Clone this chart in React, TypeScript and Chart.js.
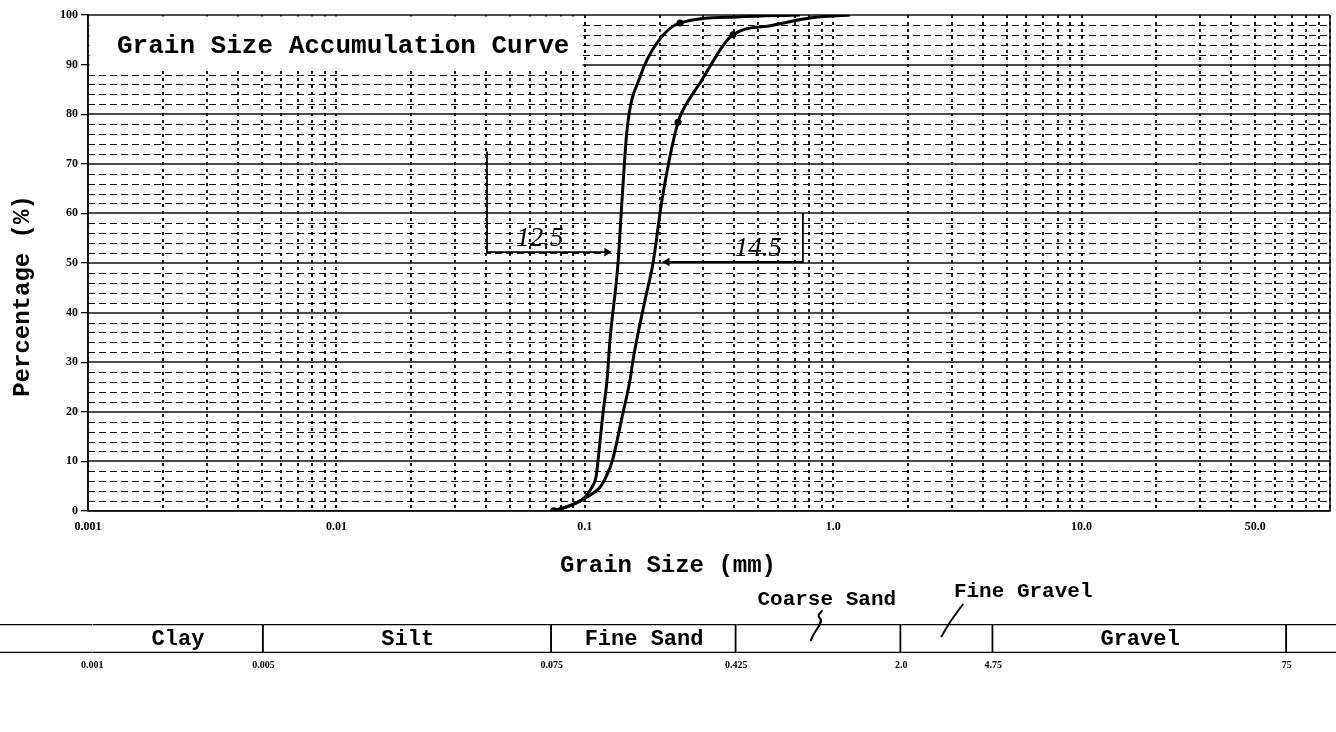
import React, { useEffect, useRef } from 'react';
import { Chart, registerables } from 'chart.js';

Chart.register(...registerables);

// ---------------- data ----------------
const xTickValues = [0.001, 0.01, 0.1, 1, 10, 50];
const xTickLabels = ['0.001', '0.01', '0.1', '1.0', '10.0', '50.0'];
const yTickValues = [0, 10, 20, 30, 40, 50, 60, 70, 80, 90, 100];

// grain size (mm) / percentage passing, left curve
const sizeA = [0.075, 0.0913, 0.1002, 0.1069, 0.111, 0.1129, 0.1184, 0.1229, 0.1263, 0.1361, 0.1412, 0.1479, 0.1668, 0.1953, 0.2417, 0.41, 0.735];
const passA = [0, 1.5, 2.8, 4.8, 6.9, 9.9, 19.8, 26.4, 34.5, 50, 62.7, 76.8, 87.5, 94.4, 98.4, 99.6, 100];
const dotsA = [0, 14];

// right curve
const sizeB = [0.075, 0.0913, 0.1021, 0.1151, 0.1217, 0.1287, 0.1425, 0.1521, 0.1563, 0.1747, 0.1882, 0.2045, 0.2372, 0.2484, 0.291, 0.395, 0.567, 0.8063, 1.168];
const passB = [0, 1.5, 2.8, 4.8, 6.9, 9.9, 19.8, 26.4, 30.4, 42.5, 50, 62.7, 78.4, 80.8, 86.3, 96, 97.9, 99.4, 100];
const dotsB = [0, 12, 15];

// handwritten notes
const note1Size = [0.0404, 0.0404, 0.1227];
const note1Pct = [72.5, 52.2, 52.2];
const note2Size = [0.755, 0.755, 0.2143];
const note2Pct = [60.1, 50.2, 50.2];
const noteTexts = ['12.5', '14.5'];
const noteTextSize = [0.066, 0.5];
const noteTextPct = [54.8, 52.8];

// classification band
const bandEdges = [0.001, 0.005, 0.075, 0.425, 2.0, 4.75, 75];
const bandEdgeLabels = ['0.001', '0.005', '0.075', '0.425', '2.0', '4.75', '75'];
const bandNames = ['Clay', 'Silt', 'Fine Sand', 'Coarse Sand', 'Fine Gravel', 'Gravel'];
const bandInside = [true, true, true, false, false, true];

const chartTitle = 'Grain Size Accumulation Curve';
const xTitle = 'Grain Size (mm)';
const yTitle = 'Percentage (%)';

// ---------------- layout ----------------
const W = 1336;
const H = 732;
const PLOT_LEFT = 88;
const PLOT_TOP = 15;
const PLOT_BOTTOM = 511;
const PLOT_RIGHT_PAD = 6;
const BAND_TOP = 624;
const BAND_BOTTOM = 653;
const BAND_MIN = 0.00042;
const BAND_MAX = 119;
const TITLE_BOX_MAX_SIZE = 0.098;
const TITLE_BOX_MIN_PCT = 89.5;

const FONT_MONO = '"Liberation Mono", "DejaVu Sans Mono", monospace';
const FONT_SERIF = '"Liberation Serif", "DejaVu Serif", serif';

const xGridLines: number[] = [];
[0.001, 0.01, 0.1, 1, 10].forEach((d) => {
  for (let m = 1; m <= 9; m++) xGridLines.push(+(m * d).toPrecision(6));
});
xGridLines.push(100);
const yMinorLines: number[] = [];
for (let v = 2; v < 100; v += 2) if (v % 10 !== 0) yMinorLines.push(v);

const paperGrid = {
  id: 'paperGrid',
  beforeDatasetsDraw(chart: any) {
    const { ctx, chartArea: a, scales } = chart;
    const x = scales.x;
    const y = scales.y;
    ctx.save();
    // minor horizontal rows (dashed)
    ctx.strokeStyle = '#111';
    ctx.lineWidth = 1.1;
    ctx.setLineDash([7, 4]);
    for (const v of yMinorLines) {
      const py = Math.round(y.getPixelForValue(v)) + 0.5;
      ctx.beginPath();
      ctx.moveTo(a.left, py);
      ctx.lineTo(a.right, py);
      ctx.stroke();
    }
    // vertical log lines (dotted)
    ctx.strokeStyle = '#000';
    ctx.lineWidth = 1.8;
    ctx.setLineDash([3, 4]);
    for (const v of xGridLines) {
      const px = Math.round(x.getPixelForValue(v));
      ctx.beginPath();
      ctx.moveTo(px, a.top);
      ctx.lineTo(px, a.bottom);
      ctx.stroke();
    }
    // major rows (solid)
    ctx.setLineDash([]);
    ctx.strokeStyle = '#111';
    ctx.lineWidth = 1.6;
    for (const v of yTickValues) {
      const py = Math.round(y.getPixelForValue(v));
      ctx.beginPath();
      ctx.moveTo(a.left, py);
      ctx.lineTo(a.right, py);
      ctx.stroke();
    }
    // frame sides
    ctx.lineWidth = 1.6;
    [a.left, a.right].forEach((px: number) => {
      ctx.beginPath();
      ctx.moveTo(Math.round(px), a.top);
      ctx.lineTo(Math.round(px), a.bottom);
      ctx.stroke();
    });
    // title box
    const bx0 = a.left + 1.5;
    const bx1 = x.getPixelForValue(TITLE_BOX_MAX_SIZE);
    const by0 = a.top + 1.5;
    const by1 = y.getPixelForValue(TITLE_BOX_MIN_PCT);
    ctx.fillStyle = '#fff';
    ctx.fillRect(bx0, by0, bx1 - bx0, by1 - by0);
    ctx.fillStyle = '#000';
    ctx.font = `bold 26px ${FONT_MONO}`;
    ctx.textBaseline = 'middle';
    ctx.textAlign = 'left';
    ctx.fillText(chartTitle, a.left + 29, a.top + 31);
    ctx.restore();
  },
  afterDraw(chart: any) {
    const { ctx, scales } = chart;
    const x = scales.x;
    const y = scales.y;
    ctx.save();
    // handwritten values
    ctx.fillStyle = '#000';
    ctx.font = `italic 27px ${FONT_SERIF}`;
    ctx.textAlign = 'center';
    ctx.textBaseline = 'middle';
    noteTexts.forEach((t, i) => {
      ctx.fillText(t, x.getPixelForValue(noteTextSize[i]), y.getPixelForValue(noteTextPct[i]));
    });
    // axis titles
    ctx.font = `bold 24px ${FONT_MONO}`;
    ctx.fillText(xTitle, 668, 566);
    ctx.translate(23, 296);
    ctx.rotate(-Math.PI / 2);
    ctx.fillText(yTitle, 0, 0);
    ctx.restore();
  },
};

const bandLabels = {
  id: 'bandLabels',
  afterDatasetsDraw(chart: any) {
    const { ctx, chartArea: a, scales } = chart;
    const x = scales.x;
    ctx.save();
    ctx.fillStyle = '#000';
    ctx.strokeStyle = '#000';
    ctx.textAlign = 'center';
    ctx.textBaseline = 'middle';
    ctx.font = `bold 22px ${FONT_MONO}`;
    const cy = (a.top + a.bottom) / 2 + 1;
    const centers = bandNames.map((_, i) => (x.getPixelForValue(bandEdges[i]) + x.getPixelForValue(bandEdges[i + 1])) / 2);
    bandNames.forEach((n, i) => {
      if (bandInside[i]) ctx.fillText(n, centers[i], cy);
    });
    // outside labels with leaders
    ctx.font = `bold 21px ${FONT_MONO}`;
    const cs = centers[3];
    const fg = centers[4];
    ctx.fillText(bandNames[3], cs + 8, 600);
    ctx.fillText(bandNames[4], fg + 76, 592);
    ctx.lineWidth = 2;
    ctx.beginPath();
    ctx.moveTo(cs - 8, a.top + 17);
    ctx.bezierCurveTo(cs - 6, a.top + 8, cs + 6, a.top - 2, cs + 1, a.top - 6);
    ctx.bezierCurveTo(cs - 3, a.top - 9, cs + 4, a.top - 12, cs + 3, a.top - 14);
    ctx.stroke();
    ctx.beginPath();
    ctx.moveTo(fg - 6, a.top + 13);
    ctx.bezierCurveTo(fg, a.top + 2, fg + 8, a.top - 10, fg + 16, a.top - 20);
    ctx.stroke();
    ctx.restore();
  },
};

function xLabel(v: number) {
  const i = xTickValues.findIndex((t) => Math.abs(t - v) / t < 1e-6);
  return i >= 0 ? xTickLabels[i] : '';
}
function bandLabel(v: number) {
  const i = bandEdges.findIndex((t) => Math.abs(t - v) / t < 1e-6);
  return i >= 0 ? bandEdgeLabels[i] : '';
}

function curveDataset(label: string, sizes: number[], pcts: number[], dots: number[]) {
  return {
    label,
    data: sizes.map((s, i) => ({ x: s, y: pcts[i] })),
    borderColor: '#000',
    borderWidth: 3,
    cubicInterpolationMode: 'monotone',
    fill: false,
    pointRadius: sizes.map((_, i) => (dots.includes(i) ? 3.5 : 0)),
    pointBackgroundColor: '#000',
    pointBorderColor: '#000',
    pointBorderWidth: 0,
  };
}
function noteDataset(label: string, sizes: number[], pcts: number[], rot: number) {
  return {
    label,
    data: sizes.map((s, i) => ({ x: s, y: pcts[i] })),
    borderColor: '#000',
    borderWidth: 1.8,
    tension: 0,
    fill: false,
    pointStyle: 'triangle',
    rotation: rot,
    pointRadius: sizes.map((_, i) => (i === sizes.length - 1 ? 5 : 0)),
    pointBackgroundColor: '#000',
    pointBorderColor: '#000',
    pointBorderWidth: 0,
  };
}

export default function App() {
  const mainRef = useRef<HTMLCanvasElement>(null);
  const bandRef = useRef<HTMLCanvasElement>(null);

  useEffect(() => {
    const tickFont = { family: FONT_SERIF, size: 12, weight: 'bold' as const };
    const main = new Chart(mainRef.current as HTMLCanvasElement, {
      type: 'line',
      data: {
        datasets: [
          curveDataset('Sample 1', sizeA, passA, dotsA),
          curveDataset('Sample 2', sizeB, passB, dotsB),
          noteDataset('note 12.5', note1Size, note1Pct, 90),
          noteDataset('note 14.5', note2Size, note2Pct, 270),
        ] as any,
      },
      options: {
        animation: false,
        responsive: false,
        devicePixelRatio: 1,
        layout: { padding: { left: 0, right: PLOT_RIGHT_PAD, top: PLOT_TOP, bottom: 0 } },
        plugins: { legend: { display: false }, tooltip: { enabled: false } },
        scales: {
          x: {
            type: 'logarithmic',
            min: 0.001,
            max: 100,
            afterBuildTicks: (s: any) => {
              s.ticks = xTickValues.map((v) => ({ value: v }));
            },
            afterFit: (s: any) => {
              s.height = H - PLOT_BOTTOM;
            },
            grid: { display: false, drawTicks: false },
            border: { display: true, color: '#000', width: 1.6 },
            ticks: {
              autoSkip: false,
              maxRotation: 0,
              minRotation: 0,
              padding: 9,
              color: '#000',
              font: tickFont,
              callback: (v: any) => xLabel(Number(v)),
            },
          },
          y: {
            type: 'linear',
            min: 0,
            max: 100,
            afterBuildTicks: (s: any) => {
              s.ticks = yTickValues.map((v) => ({ value: v }));
            },
            afterFit: (s: any) => {
              s.width = PLOT_LEFT;
            },
            grid: { drawOnChartArea: false, drawTicks: true, tickLength: 7, color: '#000', lineWidth: 1.3 },
            border: { display: true, color: '#000', width: 1.6 },
            ticks: { padding: 3, color: '#000', font: tickFont },
          },
        },
      } as any,
      plugins: [paperGrid],
    });

    const segLo = [BAND_MIN, ...bandEdges];
    const segHi = [...bandEdges, BAND_MAX];
    const band = new Chart(bandRef.current as HTMLCanvasElement, {
      type: 'bar',
      data: {
        labels: ['classification'],
        datasets: segLo.map((lo, i) => ({
          label: i === 0 || i === segLo.length - 1 ? '' : bandNames[i - 1],
          data: [[lo, segHi[i]]],
          backgroundColor: '#fff',
          borderColor: '#000',
          borderWidth: { top: 1.6, bottom: 1.6, left: 0, right: i > 0 && i < segLo.length - 1 ? 2 : 0 },
          borderSkipped: false,
          grouped: false,
          barPercentage: 1,
          categoryPercentage: 1,
        })) as any,
      },
      options: {
        indexAxis: 'y',
        animation: false,
        responsive: false,
        devicePixelRatio: 1,
        layout: { padding: { left: 0, right: 0, top: BAND_TOP, bottom: 0 } },
        plugins: { legend: { display: false }, tooltip: { enabled: false } },
        scales: {
          x: {
            type: 'logarithmic',
            min: BAND_MIN,
            max: BAND_MAX,
            afterBuildTicks: (s: any) => {
              s.ticks = bandEdges.map((v) => ({ value: v }));
            },
            afterFit: (s: any) => {
              s.height = H - BAND_BOTTOM;
            },
            grid: { display: false, drawTicks: false },
            border: { display: false },
            ticks: {
              autoSkip: false,
              maxRotation: 0,
              minRotation: 0,
              padding: 6,
              color: '#000',
              font: { family: FONT_SERIF, size: 10, weight: 'bold' },
              callback: (v: any) => bandLabel(Number(v)),
            },
          },
          y: { display: false },
        },
      } as any,
      plugins: [bandLabels],
    });

    return () => {
      main.destroy();
      band.destroy();
    };
  }, []);

  const cStyle: React.CSSProperties = { position: 'absolute', left: 0, top: 0, width: W, height: H };
  return (
    <div style={{ position: 'absolute', left: 0, top: 0, width: W, height: H, background: '#fff', overflow: 'hidden' }}>
      <canvas ref={mainRef} width={W} height={H} style={cStyle} />
      <canvas ref={bandRef} width={W} height={H} style={cStyle} />
    </div>
  );
}
